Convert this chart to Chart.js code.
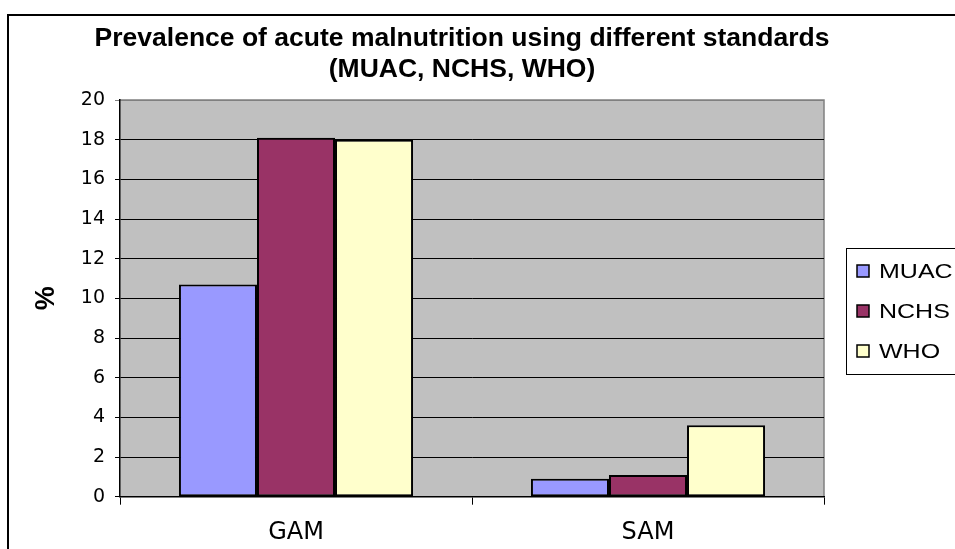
<!DOCTYPE html>
<html>
<head>
<meta charset="utf-8">
<script src="https://cdn.jsdelivr.net/npm/chart.js@4"></script>
<style>
  html, body { margin: 0; padding: 0; background: #fff; }
  #wrap { width: 955px; height: 549px; }
</style>
</head>
<body>
<div id="wrap"><canvas id="chart" width="955" height="549"></canvas></div>
<script>
// ── Data ──────────────────────────────────────────────────────
const categories = ['GAM', 'SAM'];
const muac = [10.7, 0.9];
const nchs = [18.1, 1.1];
const who  = [18.0, 3.6];
const titleLines = ['Prevalence of acute malnutrition using different standards', '(MUAC, NCHS, WHO)'];

const cMuac = '#9999FF';
const cNchs = '#993366';
const cWho  = '#FFFFCC';
const plotGray = '#C0C0C0';

// ── Frame, plot background, title and legend ──────────────────
const decor = {
  id: 'decor',
  beforeDraw(chart) {
    const { ctx, chartArea: a } = chart;
    ctx.save();
    ctx.fillStyle = '#fff';
    ctx.fillRect(0, 0, chart.width, chart.height);
    ctx.fillStyle = plotGray;
    ctx.fillRect(a.left, a.top, a.right - a.left, a.bottom - a.top);
    ctx.strokeStyle = '#808080';
    ctx.lineWidth = 1.5;
    ctx.beginPath();
    ctx.moveTo(a.left, a.top);
    ctx.lineTo(a.right, a.top);
    ctx.lineTo(a.right, a.bottom);
    ctx.stroke();
    ctx.restore();
  },
  afterDraw(chart) {
    const { ctx } = chart;
    ctx.save();
    // outer frame (runs off the right and bottom edges)
    ctx.strokeStyle = '#000';
    ctx.lineWidth = 2;
    ctx.strokeRect(8, 15, 1000, 1000);

    // title
    ctx.fillStyle = '#000';
    ctx.font = 'bold 26.5px "Liberation Sans", Arial, sans-serif';
    ctx.textAlign = 'center';
    ctx.textBaseline = 'alphabetic';
    ctx.fillText(titleLines[0], 462, 46);
    ctx.fillText(titleLines[1], 462, 77);

    // legend
    ctx.lineWidth = 1;
    ctx.strokeStyle = '#000';
    ctx.fillStyle = '#fff';
    ctx.fillRect(846.5, 248.5, 200, 126);
    ctx.strokeRect(846.5, 248.5, 200, 126);
    ctx.font = '20px "Liberation Sans", Arial, sans-serif';
    ctx.textAlign = 'left';
    ctx.textBaseline = 'middle';
    chart.data.datasets.forEach((ds, i) => {
      const y = 271 + i * 40;
      ctx.fillStyle = ds.backgroundColor;
      ctx.fillRect(857, y - 6, 12, 12);
      ctx.lineWidth = 1.5;
      ctx.strokeRect(857, y - 6, 12, 12);
      ctx.fillStyle = '#000';
      ctx.save();
      ctx.translate(879, y + 1);
      ctx.scale(1.25, 1);
      ctx.fillText(ds.label, 0, 0);
      ctx.restore();
    });
    ctx.restore();
  }
};

new Chart(document.getElementById('chart'), {
  type: 'bar',
  data: {
    labels: categories,
    datasets: [
      { label: 'MUAC', data: muac, backgroundColor: cMuac },
      { label: 'NCHS', data: nchs, backgroundColor: cNchs },
      { label: 'WHO',  data: who,  backgroundColor: cWho }
    ]
  },
  options: {
    responsive: false,
    animation: false,
    devicePixelRatio: 1,
    layout: { padding: { top: 100, right: 131, bottom: 0, left: 0 } },
    datasets: {
      bar: {
        borderColor: '#000', borderWidth: 2, borderSkipped: false,
        categoryPercentage: 0.665, barPercentage: 1.0
      }
    },
    plugins: {
      legend: { display: false },
      title: { display: false },
      tooltip: { enabled: false }
    },
    scales: {
      x: {
        grid: { drawOnChartArea: false, drawTicks: true, tickLength: 8, color: '#000', offset: true },
        border: { color: '#000', width: 1.5 },
        ticks: { color: '#000', padding: 14, font: { family: '"DejaVu Sans", sans-serif', size: 24 } },
        afterFit: s => { s.height = 52.3; }
      },
      y: {
        min: 0, max: 20,
        ticks: { stepSize: 2, color: '#000', padding: 10, font: { family: '"DejaVu Sans", sans-serif', size: 19 } },
        grid: {
          color: c => (c.tick && c.tick.value === 20 ? '#808080' : '#000'),
          lineWidth: 1, tickLength: 5
        },
        border: { color: '#000', width: 1.5 },
        title: {
          display: true, text: '%', color: '#000', padding: 30,
          font: { family: '"Liberation Sans", Arial, sans-serif', size: 27, weight: 'bold' }
        },
        afterFit: s => { s.width = 120; }
      }
    }
  },
  plugins: [decor]
});
</script>
</body>
</html>
